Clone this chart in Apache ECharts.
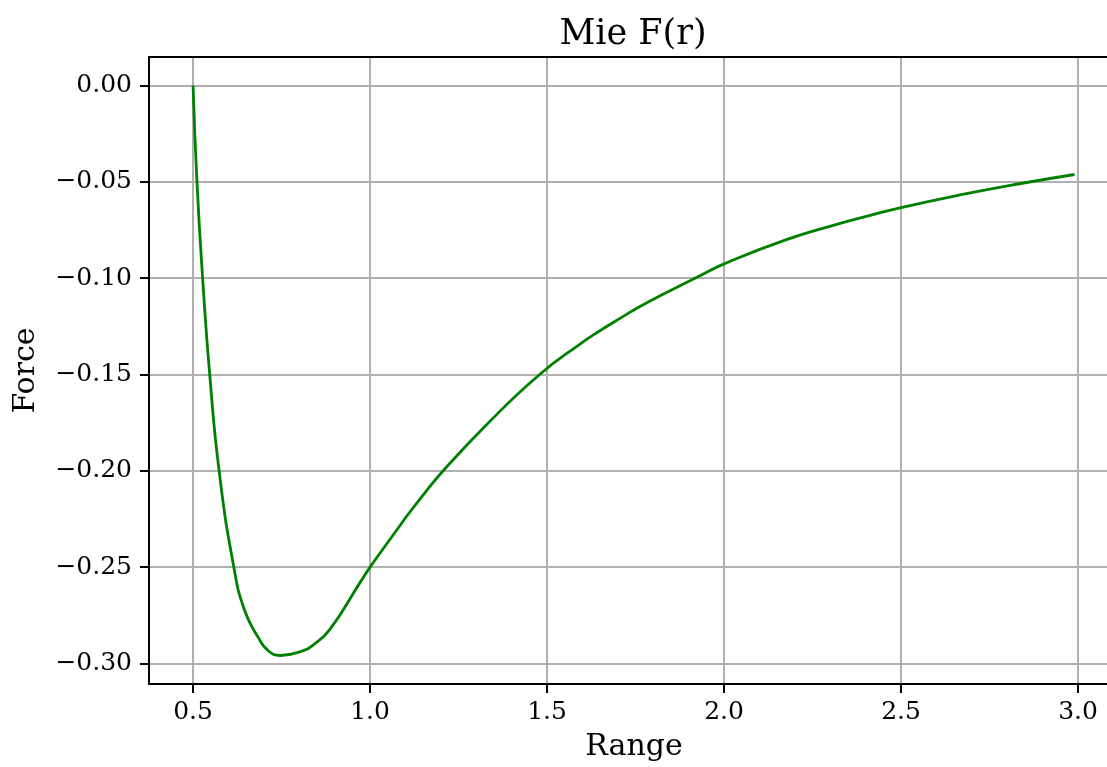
<!DOCTYPE html>
<html>
<head>
<meta charset="utf-8">
<script src="https://cdn.jsdelivr.net/npm/echarts@6/dist/echarts.min.js"></script>
<style>
html,body{margin:0;padding:0;background:#fff;}
#chart{width:1107px;height:767px;}
</style>
</head>
<body>
<div id="chart"></div>
<script>
const rangeValues = [0.500, 0.511, 0.527, 0.547, 0.5735, 0.615, 0.646, 0.684, 0.712, 0.746, 0.811, 0.839, 0.886, 0.971, 1.000, 1.080, 1.107, 1.140, 1.2065, 1.338, 1.479, 1.593, 1.647, 1.705, 1.774, 1.922, 2.000, 2.176, 2.323, 2.383, 2.500, 2.681, 2.834, 2.990];
const forceValues = [0.000, -0.050, -0.100, -0.150, -0.200, -0.250, -0.2727, -0.2865, -0.2934, -0.2959, -0.2934, -0.2905, -0.2825, -0.2582, -0.2500, -0.2296, -0.2227, -0.2149, -0.2000, -0.1744, -0.1500, -0.1342, -0.1276, -0.1210, -0.1135, -0.0997, -0.0926, -0.0800, -0.0718, -0.0688, -0.0634, -0.0563, -0.0510, -0.0462];
const xTicks = [0.5, 1.0, 1.5, 2.0, 2.5, 3.0];
const yTicks = [0.00, -0.05, -0.10, -0.15, -0.20, -0.25, -0.30];
const titleText = 'Mie F(r)';
const xName = 'Range';
const yName = 'Force';

const FONT = 'DejaVu Serif';
const chart = echarts.init(document.getElementById('chart'), null, {renderer: 'canvas'});
const data = rangeValues.map((r, i) => [r, forceValues[i]]);
const X_MIN = 0.3755, X_MAX = 3.0817;
const Y_MIN = -0.3107, Y_MAX = 0.0148;

chart.setOption({
  animation: false,
  backgroundColor: '#ffffff',
  title: {
    text: titleText,
    left: 628,
    top: 12,
    textAlign: 'center',
    textStyle: {fontFamily: FONT, fontSize: 35, fontWeight: 'normal', color: '#000'}
  },
  grid: {
    left: 149, top: 57, bottom: 79, right: 0,
    show: false,
    containLabel: false
  },
  xAxis: [{
    type: 'value',
    position: 'bottom',
    min: X_MIN, max: X_MAX,
    name: xName,
    nameLocation: 'middle',
    nameGap: 48,
    nameTextStyle: {fontFamily: FONT, fontSize: 30, color: '#000', padding: [0, 0, 0, 12]},
    axisLine: {show: true, onZero: false, lineStyle: {color: '#000', width: 2}},
    axisTick: {show: true, customValues: xTicks, length: 9, lineStyle: {color: '#000', width: 2}},
    axisLabel: {customValues: xTicks, margin: 16, fontFamily: FONT, fontSize: 25, color: '#000',
      formatter: v => v.toFixed(1)},
    splitLine: {show: true, lineStyle: {color: '#b0b0b0', width: 2}}
  }, {
    type: 'value',
    position: 'top',
    min: X_MIN, max: X_MAX,
    axisLine: {show: true, onZero: false, lineStyle: {color: '#000', width: 2}},
    axisTick: {show: false},
    axisLabel: {show: false},
    splitLine: {show: false}
  }],
  yAxis: {
    type: 'value',
    min: Y_MIN, max: Y_MAX,
    name: yName,
    nameLocation: 'middle',
    nameGap: 108,
    nameTextStyle: {fontFamily: FONT, fontSize: 30, color: '#000'},
    axisLine: {show: true, onZero: false, lineStyle: {color: '#000', width: 2}},
    axisTick: {show: true, customValues: yTicks, length: 9, lineStyle: {color: '#000', width: 2}},
    axisLabel: {customValues: yTicks, margin: 17, fontFamily: FONT, fontSize: 25, color: '#000',
      formatter: v => (v < -1e-9 ? '\u2212' : '') + Math.abs(v).toFixed(2)},
    splitLine: {show: true, lineStyle: {color: '#b0b0b0', width: 2}}
  },
  series: [{
    type: 'line',
    xAxisIndex: 0,
    data: data,
    showSymbol: false,
    smooth: 0.5,
    lineStyle: {color: '#008000', width: 2.8},
    itemStyle: {color: '#008000'},
    clip: true
  }]
});
</script>
</body>
</html>
